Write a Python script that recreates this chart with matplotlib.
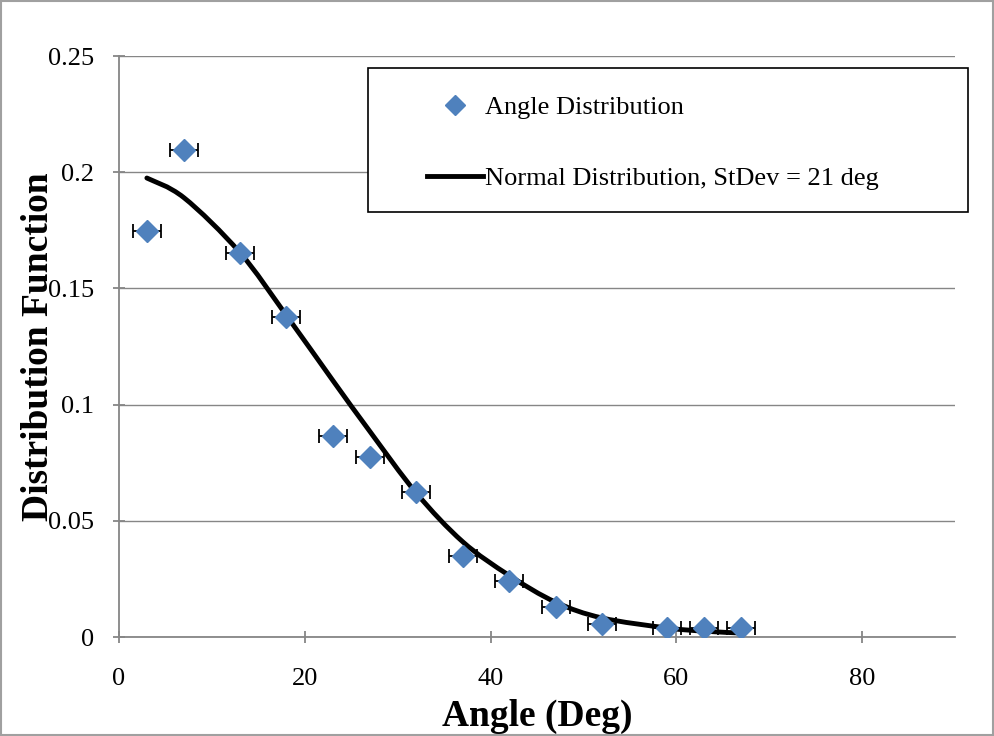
import numpy as np
import matplotlib
matplotlib.use("Agg")
import matplotlib.pyplot as plt
from matplotlib.path import Path
from matplotlib.patches import PathPatch, Rectangle
from matplotlib.lines import Line2D

# measured angle distribution (deg, value) with horizontal error
angle = [3, 7, 13, 18, 23, 27, 32, 37, 42, 47, 52, 59, 63, 67]
dist = [0.1747, 0.2096, 0.1652, 0.1377, 0.0865, 0.0775, 0.0624,
        0.0349, 0.0241, 0.0129, 0.0056, 0.0039, 0.0039, 0.0039]
angle_err = [1.5] * len(angle)

# normal distribution curve (StDev = 21 deg)
curve_x = [3, 7, 13, 18, 23, 27, 32, 37, 42, 47, 52, 59, 63, 67]
curve_y = [0.1975, 0.1890, 0.1655, 0.1385, 0.1105, 0.0885, 0.0620,
           0.0410, 0.0265, 0.0150, 0.0082, 0.0039, 0.0025, 0.0017]

blue = '#4F81BD'
grey = '#868686'

plt.rcParams['font.family'] = ['Liberation Serif', 'DejaVu Serif']


def smooth_path(xs, ys, t=1/6):
    # excel style smoothed line: cubic bezier through every point
    xs = np.asarray(xs, float)
    ys = np.asarray(ys, float)
    n = len(xs)
    verts = [(xs[0], ys[0])]
    codes = [Path.MOVETO]
    for i in range(n - 1):
        p0 = (xs[max(i - 1, 0)], ys[max(i - 1, 0)])
        p1 = (xs[i], ys[i])
        p2 = (xs[i + 1], ys[i + 1])
        p3 = (xs[min(i + 2, n - 1)], ys[min(i + 2, n - 1)])
        c1 = (p1[0] + (p2[0] - p0[0]) * t, p1[1] + (p2[1] - p0[1]) * t)
        c2 = (p2[0] - (p3[0] - p1[0]) * t, p2[1] - (p3[1] - p1[1]) * t)
        verts += [c1, c2, p2]
        codes += [Path.CURVE4] * 3
    return Path(verts, codes)


fig = plt.figure(figsize=(9.95, 7.36), dpi=100)
ax = fig.add_axes([0.1196, 0.1345, 0.8402, 0.7894])

ax.set_xlim(0, 90)
ax.set_ylim(0, 0.25)
ax.set_xticks([0, 20, 40, 60, 80])
ax.set_yticks([0, 0.05, 0.1, 0.15, 0.2, 0.25])
ax.set_yticklabels(['0', '0.05', '0.1', '0.15', '0.2', '0.25'])
ax.yaxis.grid(True, color=grey, linewidth=1.0)
ax.set_axisbelow(True)

for s in ['top', 'right']:
    ax.spines[s].set_visible(False)
for s in ['left', 'bottom']:
    ax.spines[s].set_color(grey)
    ax.spines[s].set_linewidth(1.3)

ax.tick_params(axis='both', direction='inout', length=8, width=1.3,
               color=grey, labelsize=19)
ax.tick_params(axis='x', pad=18)
ax.tick_params(axis='y', pad=14)

ax.add_patch(PathPatch(smooth_path(curve_x, curve_y), facecolor='none',
                       edgecolor='black', linewidth=3.5, zorder=3,
                       capstyle='round'))

ax.errorbar(angle, dist, xerr=angle_err, fmt='none', ecolor='black',
            elinewidth=1.3, capsize=5, capthick=1.3, zorder=4)
ax.plot(angle, dist, linestyle='none', marker='D', markersize=11,
        color=blue, zorder=5)

ax.set_xlabel('Angle (Deg)', fontsize=27, fontweight='bold', labelpad=7)
ax.set_ylabel('Distribution Function', fontsize=27, fontweight='bold')
ax.yaxis.set_label_coords(-0.075, 0.5)

# legend frame drawn separately so the entries can sit where they do
ax.add_patch(Rectangle((0.2978, 0.7315), 0.7178, 0.2478,
                       transform=ax.transAxes, facecolor='white',
                       edgecolor='black', linewidth=1.2, zorder=6,
                       clip_on=False))
handles = [Line2D([], [], linestyle='none', marker='D', markersize=10,
                  color=blue),
           Line2D([], [], color='black', linewidth=3.5)]
leg = ax.legend(handles, ['Angle Distribution',
                          'Normal Distribution, StDev = 21 deg'],
                loc='upper left', bbox_to_anchor=(0.3684, 0.9318),
                fontsize=19, frameon=False, labelspacing=1.8,
                handlelength=2.12, handletextpad=0.08,
                borderpad=0, borderaxespad=0)
leg.set_zorder(7)

fig.patches.append(Rectangle((0.001, 0.001), 0.997, 0.997,
                             transform=fig.transFigure, fill=False,
                             edgecolor='#A0A0A0', linewidth=1.5))

fig.savefig('out.png', dpi=100)
